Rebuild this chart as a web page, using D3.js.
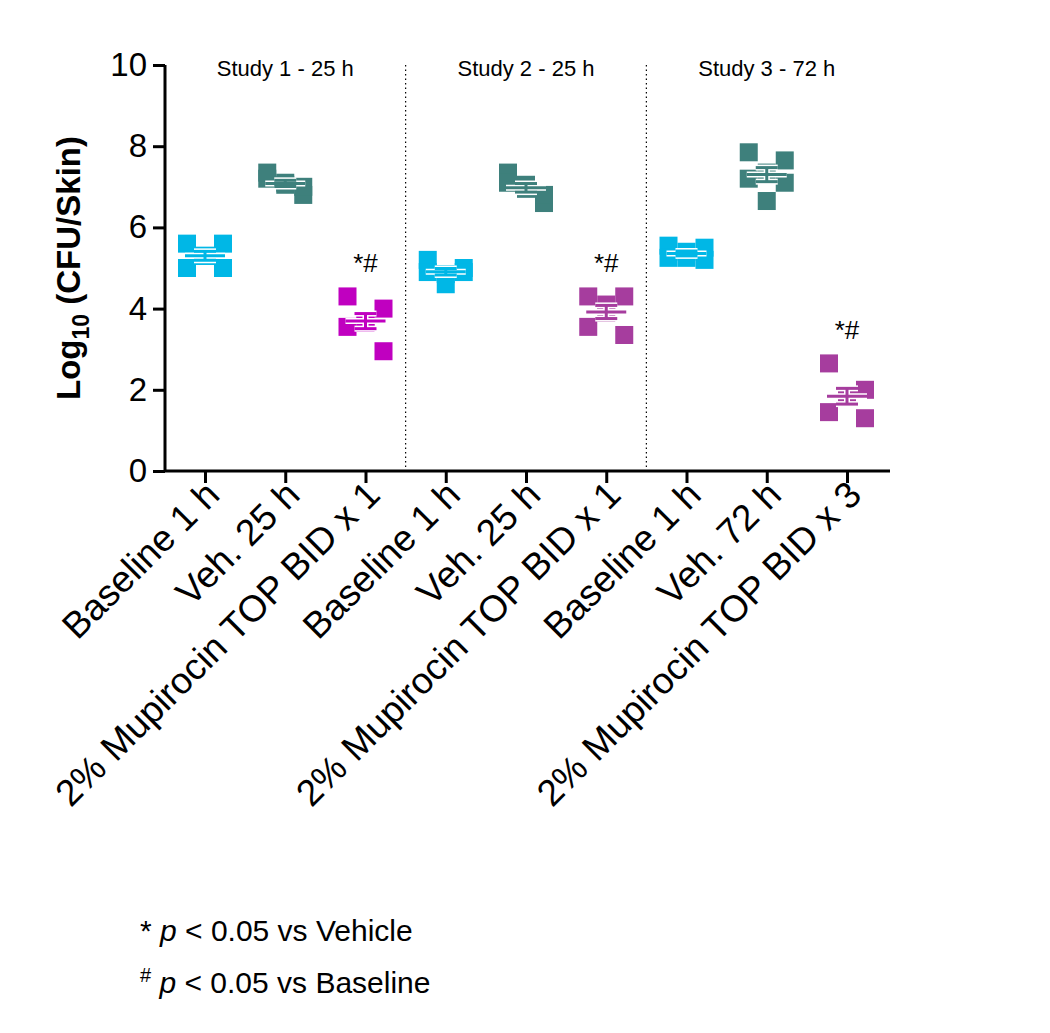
<!DOCTYPE html>
<html><head><meta charset="utf-8">
<script src="https://cdn.jsdelivr.net/npm/d3@7"></script>
<style>body{margin:0;background:#fff}text{font-family:Arial,"Liberation Sans",sans-serif}</style>
</head><body><svg id="c" width="1050" height="1033"></svg>
<script>
const categories = ["Baseline 1 h","Veh. 25 h","2% Mupirocin TOP BID x 1","Baseline 1 h ","Veh. 25 h ","2% Mupirocin TOP BID x 1 ","Baseline 1 h  ","Veh. 72 h","2% Mupirocin TOP BID x 3"];
const values = [
  [5.6,5.6,5.3,5.0,5.0,5.3],
  [7.2,6.8,7.05,7.35,7.0,7.1],
  [4.3,4.0,3.65,3.55,2.95,3.7],
  [5.2,5.0,4.6,4.9,4.9,4.85],
  [7.35,6.6,7.05,7.1,6.8,6.95],
  [4.3,4.3,4.1,3.55,3.35,3.9],
  [5.55,5.5,5.25,5.25,5.2,5.4],
  [7.85,7.65,7.35,7.2,7.1,6.65],
  [2.65,2.0,1.85,1.45,1.3,1.8]
];
const colors = ["#00b7e6","#3e807c","#c000c0","#00b7e6","#3e807c","#a63d9e","#00b7e6","#3e807c","#a63d9e"];
const jitter = [-0.5,0.5,0,-0.5,0.5,0];
const studies = ["Study 1 - 25 h","Study 2 - 25 h","Study 3 - 72 h"];
const signif = [2,5,8];
const yTicks = [0,2,4,6,8,10];

const svg = d3.select("#c");
const L=165,R=890,T=65,B=471;
const x = d3.scalePoint().domain(categories).range([205,847]);
const y = d3.scaleLinear().domain([0,10]).range([B,T]);
const step = x.step();

// separators
[2.5,5.5].forEach(i=>{
  const xx = x(categories[0]) + i*step;
  svg.append("line").attr("x1",xx).attr("x2",xx).attr("y1",T).attr("y2",B)
    .attr("stroke","#000").attr("stroke-width",1.2).attr("stroke-dasharray","1.5,3");
});
studies.forEach((s,i)=>{
  svg.append("text").attr("x",x(categories[i*3+1])).attr("y",76).attr("text-anchor","middle")
    .attr("font-size",22).text(s);
});

// points
values.forEach((vals,i)=>{
  const cx = x(categories[i]);
  const g = svg.append("g");
  vals.forEach((v,j)=>{
    g.append("rect").attr("x",cx+jitter[j]*36-9).attr("y",y(v)-9).attr("width",18).attr("height",18)
      .attr("fill",colors[i]);
  });
  const m = d3.mean(vals), se = d3.deviation(vals)/Math.sqrt(vals.length);
  const draw = (w,c)=>{
    g.append("line").attr("x1",cx-20).attr("x2",cx+20).attr("y1",y(m)).attr("y2",y(m)).attr("stroke",c).attr("stroke-width",w);
    [m-se,m+se].forEach(e=>g.append("line").attr("x1",cx-11).attr("x2",cx+11).attr("y1",y(e)).attr("y2",y(e)).attr("stroke",c).attr("stroke-width",w));
    g.append("line").attr("x1",cx).attr("x2",cx).attr("y1",y(m-se)).attr("y2",y(m+se)).attr("stroke",c).attr("stroke-width",w);
  };
  draw(6,"#fff"); draw(3,colors[i]);
});
signif.forEach(i=>{
  const top = d3.max(values[i]);
  svg.append("text").attr("x",x(categories[i])).attr("y",y(top)-24).attr("text-anchor","middle")
    .attr("font-size",26).text("*#");
});

// axes
const ya = svg.append("g").attr("transform",`translate(${L},0)`)
  .call(d3.axisLeft(y).tickValues(yTicks).tickSize(12).tickPadding(6));
ya.select(".domain").attr("stroke-width",3).attr("d",`M0,${T}V${B}`);
ya.selectAll(".tick line").attr("stroke-width",3);
ya.selectAll("text").attr("font-size",33).attr("font-family","Arial,'Liberation Sans',sans-serif");

const xa = svg.append("g").attr("transform",`translate(0,${B})`)
  .call(d3.axisBottom(x).tickSize(12).tickSizeOuter(0));
xa.select(".domain").attr("stroke-width",3).attr("d",`M${L},0H${R}`);
xa.selectAll(".tick line").attr("stroke-width",3);
xa.selectAll("text").attr("font-size",37).attr("font-family","Arial,'Liberation Sans',sans-serif")
  .attr("text-anchor","end").attr("dy",0).attr("transform","translate(16,26) rotate(-45)").attr("y",0).attr("x",0)
  .text(d=>d.trim());

// y title
const yt = svg.append("text").attr("transform","translate(80,268) rotate(-90)").attr("text-anchor","middle")
  .attr("font-size",33).attr("font-weight","bold");
yt.append("tspan").text("Log");
yt.append("tspan").attr("font-size",23).attr("dy",9).text("10");
yt.append("tspan").attr("dy",-9).text(" (CFU/Skin)");

// footnotes
const f1 = svg.append("text").attr("x",140).attr("y",941).attr("font-size",30);
f1.append("tspan").text("* ");
f1.append("tspan").attr("font-style","italic").text("p");
f1.append("tspan").text(" < 0.05 vs Vehicle");
const f2 = svg.append("text").attr("x",140).attr("y",993).attr("font-size",30);
f2.append("tspan").attr("font-size",20).attr("dy",-11).text("#");
f2.append("tspan").attr("dy",11).text(" ");
f2.append("tspan").attr("font-style","italic").text("p");
f2.append("tspan").text(" < 0.05 vs Baseline");
</script></body></html>
